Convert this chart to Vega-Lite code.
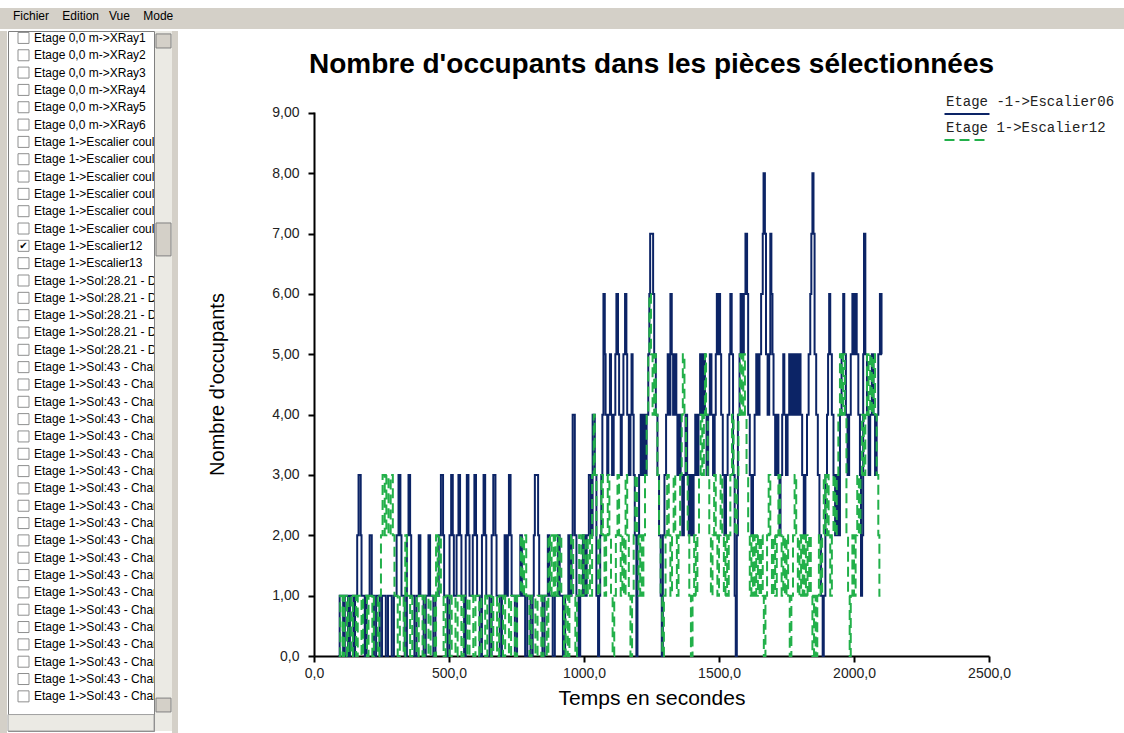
{
  "$schema": "https://vega.github.io/schema/vega-lite/v6.json",
  "background": "white",
  "padding": {"left": 0, "top": 8, "right": 0, "bottom": 0},
  "spacing": 1,
  "resolve": {"scale": {"color": "independent", "strokeDash": "independent"}, "legend": {"color": "independent", "strokeDash": "independent"}},
  "config": {"view": {"stroke": null}, "font": "Liberation Sans", "style": {"guide-label": {"lineHeight": 24}}},
  "datasets": {
    "escalier06": [
{"t":90,"n":0},{"t":95,"n":1},{"t":108,"n":0},{"t":114,"n":1},{"t":126,"n":0},{"t":133,"n":1},{"t":146,"n":0},{"t":152,"n":1},{"t":160,"n":2},{"t":165,"n":3},{"t":173,"n":2},{"t":176,"n":1},{"t":188,"n":0},{"t":195,"n":1},{"t":206,"n":2},{"t":214,"n":1},{"t":222,"n":0},{"t":230,"n":1},{"t":244,"n":0},{"t":252,"n":1},{"t":266,"n":0},{"t":274,"n":1},{"t":288,"n":0},{"t":296,"n":1},{"t":306,"n":2},{"t":313,"n":3},{"t":320,"n":2},{"t":324,"n":1},{"t":336,"n":0},{"t":344,"n":2},{"t":350,"n":3},{"t":356,"n":2},{"t":360,"n":1},{"t":372,"n":0},{"t":380,"n":1},{"t":388,"n":2},{"t":394,"n":1},{"t":406,"n":0},{"t":414,"n":1},{"t":424,"n":2},{"t":430,"n":1},{"t":442,"n":0},{"t":450,"n":1},{"t":462,"n":2},{"t":470,"n":3},{"t":478,"n":2},{"t":482,"n":1},{"t":494,"n":0},{"t":502,"n":2},{"t":508,"n":3},{"t":514,"n":2},{"t":518,"n":1},{"t":528,"n":2},{"t":535,"n":3},{"t":541,"n":2},{"t":546,"n":1},{"t":556,"n":0},{"t":562,"n":2},{"t":566,"n":3},{"t":572,"n":2},{"t":576,"n":1},{"t":588,"n":2},{"t":594,"n":3},{"t":600,"n":2},{"t":604,"n":1},{"t":614,"n":0},{"t":622,"n":2},{"t":628,"n":3},{"t":634,"n":2},{"t":638,"n":1},{"t":650,"n":0},{"t":658,"n":2},{"t":664,"n":3},{"t":672,"n":2},{"t":676,"n":1},{"t":688,"n":0},{"t":696,"n":1},{"t":706,"n":2},{"t":712,"n":1},{"t":718,"n":2},{"t":722,"n":3},{"t":728,"n":2},{"t":732,"n":1},{"t":744,"n":0},{"t":752,"n":1},{"t":764,"n":2},{"t":770,"n":1},{"t":782,"n":0},{"t":790,"n":1},{"t":802,"n":0},{"t":810,"n":1},{"t":814,"n":2},{"t":818,"n":3},{"t":830,"n":2},{"t":834,"n":1},{"t":846,"n":0},{"t":854,"n":1},{"t":866,"n":2},{"t":872,"n":1},{"t":884,"n":0},{"t":892,"n":1},{"t":904,"n":2},{"t":910,"n":1},{"t":922,"n":0},{"t":930,"n":1},{"t":942,"n":2},{"t":948,"n":1},{"t":954,"n":2},{"t":958,"n":4},{"t":966,"n":2},{"t":972,"n":1},{"t":980,"n":0},{"t":986,"n":1},{"t":996,"n":2},{"t":1004,"n":1},{"t":1010,"n":2},{"t":1018,"n":3},{"t":1026,"n":2},{"t":1032,"n":4},{"t":1040,"n":3},{"t":1046,"n":1},{"t":1052,"n":0},{"t":1056,"n":1},{"t":1060,"n":2},{"t":1064,"n":3},{"t":1068,"n":4},{"t":1072,"n":6},{"t":1077,"n":5},{"t":1080,"n":4},{"t":1086,"n":3},{"t":1090,"n":4},{"t":1096,"n":5},{"t":1100,"n":4},{"t":1104,"n":3},{"t":1110,"n":4},{"t":1116,"n":5},{"t":1120,"n":6},{"t":1126,"n":5},{"t":1130,"n":4},{"t":1136,"n":3},{"t":1140,"n":4},{"t":1146,"n":5},{"t":1152,"n":6},{"t":1157,"n":5},{"t":1160,"n":4},{"t":1166,"n":3},{"t":1172,"n":4},{"t":1176,"n":5},{"t":1180,"n":4},{"t":1184,"n":3},{"t":1188,"n":2},{"t":1194,"n":0},{"t":1198,"n":2},{"t":1204,"n":3},{"t":1210,"n":4},{"t":1216,"n":3},{"t":1220,"n":4},{"t":1226,"n":3},{"t":1232,"n":4},{"t":1238,"n":5},{"t":1242,"n":6},{"t":1245,"n":7},{"t":1256,"n":6},{"t":1260,"n":5},{"t":1266,"n":4},{"t":1272,"n":3},{"t":1278,"n":2},{"t":1284,"n":1},{"t":1288,"n":0},{"t":1292,"n":2},{"t":1298,"n":3},{"t":1304,"n":4},{"t":1310,"n":5},{"t":1316,"n":4},{"t":1320,"n":6},{"t":1325,"n":5},{"t":1330,"n":4},{"t":1336,"n":5},{"t":1342,"n":4},{"t":1346,"n":3},{"t":1352,"n":4},{"t":1358,"n":3},{"t":1364,"n":2},{"t":1370,"n":3},{"t":1376,"n":4},{"t":1382,"n":3},{"t":1388,"n":2},{"t":1394,"n":3},{"t":1400,"n":2},{"t":1406,"n":3},{"t":1412,"n":4},{"t":1418,"n":3},{"t":1424,"n":4},{"t":1430,"n":5},{"t":1436,"n":4},{"t":1442,"n":5},{"t":1448,"n":4},{"t":1454,"n":3},{"t":1460,"n":4},{"t":1466,"n":5},{"t":1472,"n":4},{"t":1478,"n":3},{"t":1484,"n":4},{"t":1488,"n":5},{"t":1492,"n":6},{"t":1496,"n":5},{"t":1500,"n":6},{"t":1504,"n":5},{"t":1508,"n":4},{"t":1514,"n":3},{"t":1520,"n":2},{"t":1526,"n":3},{"t":1532,"n":4},{"t":1538,"n":5},{"t":1542,"n":6},{"t":1547,"n":5},{"t":1552,"n":3},{"t":1558,"n":1},{"t":1562,"n":0},{"t":1566,"n":2},{"t":1570,"n":4},{"t":1576,"n":5},{"t":1580,"n":6},{"t":1586,"n":5},{"t":1592,"n":6},{"t":1598,"n":7},{"t":1604,"n":6},{"t":1608,"n":4},{"t":1614,"n":3},{"t":1620,"n":2},{"t":1626,"n":3},{"t":1632,"n":4},{"t":1638,"n":5},{"t":1644,"n":4},{"t":1650,"n":5},{"t":1656,"n":6},{"t":1662,"n":7},{"t":1665,"n":8},{"t":1670,"n":7},{"t":1674,"n":5},{"t":1680,"n":4},{"t":1686,"n":5},{"t":1690,"n":7},{"t":1694,"n":6},{"t":1698,"n":5},{"t":1702,"n":4},{"t":1708,"n":3},{"t":1714,"n":4},{"t":1720,"n":3},{"t":1724,"n":2},{"t":1728,"n":3},{"t":1734,"n":4},{"t":1738,"n":5},{"t":1742,"n":4},{"t":1748,"n":3},{"t":1754,"n":4},{"t":1760,"n":5},{"t":1766,"n":4},{"t":1772,"n":5},{"t":1778,"n":4},{"t":1784,"n":5},{"t":1790,"n":4},{"t":1796,"n":5},{"t":1802,"n":4},{"t":1808,"n":3},{"t":1814,"n":2},{"t":1820,"n":3},{"t":1826,"n":4},{"t":1832,"n":5},{"t":1838,"n":6},{"t":1842,"n":7},{"t":1846,"n":8},{"t":1850,"n":7},{"t":1854,"n":5},{"t":1860,"n":4},{"t":1866,"n":3},{"t":1872,"n":2},{"t":1878,"n":1},{"t":1884,"n":0},{"t":1888,"n":1},{"t":1894,"n":3},{"t":1900,"n":4},{"t":1904,"n":5},{"t":1908,"n":6},{"t":1912,"n":5},{"t":1918,"n":4},{"t":1924,"n":3},{"t":1930,"n":2},{"t":1936,"n":3},{"t":1942,"n":2},{"t":1948,"n":4},{"t":1954,"n":5},{"t":1960,"n":6},{"t":1964,"n":5},{"t":1970,"n":4},{"t":1976,"n":3},{"t":1982,"n":4},{"t":1988,"n":5},{"t":1994,"n":6},{"t":2000,"n":5},{"t":2006,"n":6},{"t":2010,"n":5},{"t":2016,"n":4},{"t":2022,"n":3},{"t":2026,"n":1},{"t":2030,"n":2},{"t":2034,"n":5},{"t":2037,"n":7},{"t":2042,"n":5},{"t":2048,"n":4},{"t":2054,"n":3},{"t":2060,"n":4},{"t":2066,"n":5},{"t":2072,"n":4},{"t":2078,"n":3},{"t":2084,"n":4},{"t":2090,"n":5},{"t":2096,"n":6},{"t":2102,"n":5},{"t":2104,"n":5}
    ],
    "escalier12": [
{"t":92,"n":0},{"t":97,"n":1},{"t":106,"n":0},{"t":112,"n":1},{"t":122,"n":0},{"t":128,"n":1},{"t":138,"n":0},{"t":144,"n":1},{"t":156,"n":0},{"t":162,"n":1},{"t":176,"n":0},{"t":182,"n":1},{"t":196,"n":0},{"t":202,"n":1},{"t":216,"n":0},{"t":222,"n":1},{"t":236,"n":0},{"t":242,"n":1},{"t":248,"n":2},{"t":254,"n":3},{"t":262,"n":2},{"t":268,"n":3},{"t":276,"n":2},{"t":284,"n":3},{"t":292,"n":2},{"t":298,"n":1},{"t":310,"n":0},{"t":318,"n":1},{"t":332,"n":0},{"t":338,"n":2},{"t":344,"n":1},{"t":356,"n":0},{"t":364,"n":1},{"t":380,"n":0},{"t":388,"n":1},{"t":402,"n":0},{"t":410,"n":1},{"t":424,"n":0},{"t":432,"n":1},{"t":446,"n":0},{"t":452,"n":2},{"t":458,"n":1},{"t":464,"n":2},{"t":470,"n":1},{"t":480,"n":0},{"t":488,"n":1},{"t":502,"n":0},{"t":510,"n":1},{"t":524,"n":0},{"t":532,"n":1},{"t":546,"n":0},{"t":554,"n":1},{"t":568,"n":0},{"t":576,"n":1},{"t":590,"n":0},{"t":598,"n":1},{"t":612,"n":0},{"t":620,"n":1},{"t":634,"n":0},{"t":642,"n":1},{"t":656,"n":0},{"t":664,"n":1},{"t":678,"n":0},{"t":686,"n":1},{"t":700,"n":0},{"t":708,"n":1},{"t":722,"n":0},{"t":730,"n":1},{"t":744,"n":0},{"t":752,"n":1},{"t":766,"n":2},{"t":772,"n":1},{"t":778,"n":2},{"t":786,"n":1},{"t":798,"n":0},{"t":806,"n":1},{"t":820,"n":0},{"t":828,"n":1},{"t":842,"n":0},{"t":850,"n":1},{"t":862,"n":0},{"t":868,"n":2},{"t":874,"n":1},{"t":880,"n":2},{"t":888,"n":1},{"t":894,"n":2},{"t":902,"n":1},{"t":908,"n":2},{"t":916,"n":1},{"t":926,"n":0},{"t":932,"n":1},{"t":940,"n":0},{"t":946,"n":1},{"t":952,"n":2},{"t":960,"n":1},{"t":968,"n":0},{"t":974,"n":1},{"t":982,"n":2},{"t":990,"n":1},{"t":998,"n":2},{"t":1006,"n":1},{"t":1014,"n":2},{"t":1022,"n":1},{"t":1030,"n":3},{"t":1036,"n":4},{"t":1040,"n":3},{"t":1046,"n":2},{"t":1052,"n":1},{"t":1058,"n":2},{"t":1064,"n":3},{"t":1070,"n":2},{"t":1076,"n":1},{"t":1082,"n":2},{"t":1088,"n":3},{"t":1094,"n":2},{"t":1100,"n":1},{"t":1106,"n":0},{"t":1112,"n":1},{"t":1118,"n":2},{"t":1124,"n":3},{"t":1130,"n":2},{"t":1136,"n":1},{"t":1142,"n":2},{"t":1148,"n":1},{"t":1154,"n":3},{"t":1160,"n":2},{"t":1166,"n":1},{"t":1172,"n":0},{"t":1178,"n":1},{"t":1184,"n":2},{"t":1190,"n":3},{"t":1196,"n":2},{"t":1202,"n":1},{"t":1208,"n":2},{"t":1214,"n":1},{"t":1220,"n":2},{"t":1226,"n":3},{"t":1232,"n":4},{"t":1238,"n":5},{"t":1242,"n":6},{"t":1248,"n":5},{"t":1254,"n":4},{"t":1260,"n":5},{"t":1266,"n":4},{"t":1272,"n":3},{"t":1278,"n":2},{"t":1284,"n":1},{"t":1290,"n":0},{"t":1296,"n":1},{"t":1302,"n":2},{"t":1308,"n":3},{"t":1314,"n":2},{"t":1320,"n":1},{"t":1326,"n":2},{"t":1332,"n":3},{"t":1338,"n":2},{"t":1344,"n":1},{"t":1350,"n":2},{"t":1356,"n":3},{"t":1362,"n":4},{"t":1366,"n":5},{"t":1372,"n":4},{"t":1378,"n":3},{"t":1384,"n":2},{"t":1390,"n":1},{"t":1396,"n":0},{"t":1402,"n":1},{"t":1408,"n":2},{"t":1414,"n":1},{"t":1420,"n":2},{"t":1426,"n":3},{"t":1432,"n":4},{"t":1438,"n":3},{"t":1444,"n":4},{"t":1448,"n":5},{"t":1452,"n":4},{"t":1458,"n":3},{"t":1464,"n":2},{"t":1470,"n":1},{"t":1476,"n":2},{"t":1482,"n":3},{"t":1488,"n":2},{"t":1494,"n":1},{"t":1500,"n":2},{"t":1506,"n":3},{"t":1512,"n":2},{"t":1518,"n":1},{"t":1524,"n":2},{"t":1530,"n":1},{"t":1536,"n":2},{"t":1542,"n":3},{"t":1548,"n":4},{"t":1554,"n":3},{"t":1560,"n":2},{"t":1566,"n":3},{"t":1572,"n":4},{"t":1578,"n":5},{"t":1584,"n":4},{"t":1590,"n":5},{"t":1596,"n":4},{"t":1602,"n":3},{"t":1608,"n":2},{"t":1614,"n":1},{"t":1620,"n":2},{"t":1626,"n":1},{"t":1632,"n":2},{"t":1638,"n":1},{"t":1644,"n":2},{"t":1650,"n":1},{"t":1656,"n":2},{"t":1662,"n":1},{"t":1666,"n":0},{"t":1672,"n":1},{"t":1678,"n":2},{"t":1684,"n":3},{"t":1690,"n":2},{"t":1696,"n":1},{"t":1702,"n":2},{"t":1708,"n":1},{"t":1714,"n":2},{"t":1720,"n":3},{"t":1726,"n":2},{"t":1732,"n":1},{"t":1738,"n":2},{"t":1744,"n":1},{"t":1750,"n":2},{"t":1756,"n":1},{"t":1762,"n":0},{"t":1768,"n":1},{"t":1774,"n":2},{"t":1780,"n":3},{"t":1786,"n":2},{"t":1792,"n":1},{"t":1798,"n":2},{"t":1804,"n":1},{"t":1810,"n":2},{"t":1816,"n":1},{"t":1822,"n":2},{"t":1828,"n":1},{"t":1834,"n":2},{"t":1840,"n":1},{"t":1846,"n":0},{"t":1852,"n":1},{"t":1858,"n":0},{"t":1864,"n":1},{"t":1870,"n":2},{"t":1876,"n":1},{"t":1882,"n":2},{"t":1888,"n":3},{"t":1894,"n":2},{"t":1900,"n":3},{"t":1906,"n":2},{"t":1912,"n":1},{"t":1918,"n":2},{"t":1924,"n":3},{"t":1930,"n":2},{"t":1936,"n":3},{"t":1942,"n":4},{"t":1948,"n":5},{"t":1954,"n":4},{"t":1960,"n":5},{"t":1966,"n":4},{"t":1972,"n":2},{"t":1978,"n":1},{"t":1984,"n":0},{"t":1988,"n":1},{"t":1994,"n":2},{"t":2000,"n":1},{"t":2006,"n":2},{"t":2012,"n":3},{"t":2018,"n":2},{"t":2024,"n":3},{"t":2030,"n":4},{"t":2036,"n":3},{"t":2042,"n":4},{"t":2048,"n":5},{"t":2054,"n":4},{"t":2060,"n":5},{"t":2066,"n":4},{"t":2072,"n":5},{"t":2078,"n":4},{"t":2084,"n":3},{"t":2090,"n":2},{"t":2094,"n":1},{"t":2098,"n":1}
    ],
    "pieces": [
{"row":0,"label":"Etage 0,0 m->XRay1","checked":false},{"row":1,"label":"Etage 0,0 m->XRay2","checked":false},{"row":2,"label":"Etage 0,0 m->XRay3","checked":false},{"row":3,"label":"Etage 0,0 m->XRay4","checked":false},{"row":4,"label":"Etage 0,0 m->XRay5","checked":false},{"row":5,"label":"Etage 0,0 m->XRay6","checked":false},
{"row":6,"label":"Etage 1->Escalier couleur 01","checked":false},{"row":7,"label":"Etage 1->Escalier couleur 02","checked":false},{"row":8,"label":"Etage 1->Escalier couleur 03","checked":false},{"row":9,"label":"Etage 1->Escalier couleur 04","checked":false},{"row":10,"label":"Etage 1->Escalier couleur 05","checked":false},{"row":11,"label":"Etage 1->Escalier couleur 06","checked":false},
{"row":12,"label":"Etage 1->Escalier12","checked":true},{"row":13,"label":"Etage 1->Escalier13","checked":false},
{"row":14,"label":"Etage 1->Sol:28.21 - Dégagement","checked":false},{"row":15,"label":"Etage 1->Sol:28.21 - Dégagement","checked":false},{"row":16,"label":"Etage 1->Sol:28.21 - Dégagement","checked":false},{"row":17,"label":"Etage 1->Sol:28.21 - Dégagement","checked":false},{"row":18,"label":"Etage 1->Sol:28.21 - Dégagement","checked":false},
{"row":19,"label":"Etage 1->Sol:43 - Chambre","checked":false},{"row":20,"label":"Etage 1->Sol:43 - Chambre","checked":false},{"row":21,"label":"Etage 1->Sol:43 - Chambre","checked":false},{"row":22,"label":"Etage 1->Sol:43 - Chambre","checked":false},{"row":23,"label":"Etage 1->Sol:43 - Chambre","checked":false},{"row":24,"label":"Etage 1->Sol:43 - Chambre","checked":false},{"row":25,"label":"Etage 1->Sol:43 - Chambre","checked":false},{"row":26,"label":"Etage 1->Sol:43 - Chambre","checked":false},{"row":27,"label":"Etage 1->Sol:43 - Chambre","checked":false},{"row":28,"label":"Etage 1->Sol:43 - Chambre","checked":false},{"row":29,"label":"Etage 1->Sol:43 - Chambre","checked":false},{"row":30,"label":"Etage 1->Sol:43 - Chambre","checked":false},{"row":31,"label":"Etage 1->Sol:43 - Chambre","checked":false},{"row":32,"label":"Etage 1->Sol:43 - Chambre","checked":false},{"row":33,"label":"Etage 1->Sol:43 - Chambre","checked":false},{"row":34,"label":"Etage 1->Sol:43 - Chambre","checked":false},{"row":35,"label":"Etage 1->Sol:43 - Chambre","checked":false},{"row":36,"label":"Etage 1->Sol:43 - Chambre","checked":false},{"row":37,"label":"Etage 1->Sol:43 - Chambre","checked":false},{"row":38,"label":"Etage 1->Sol:43 - Chambre","checked":false}
    ]
  },
  "vconcat": [
    {
      "width": 1124, "height": 21,
      "view": {"fill": "#d4d0c8", "stroke": null},
      "data": {"values": [{"menu": "Fichier\u00a0\u00a0\u00a0\u00a0Edition\u00a0\u00a0\u00a0Vue\u00a0\u00a0\u00a0\u00a0Mode"}]},
      "mark": {"type": "text", "align": "left", "baseline": "middle", "font": "Liberation Sans", "fontSize": 12, "color": "black"},
      "encoding": {"text": {"field": "menu"}, "x": {"value": 13}, "y": {"value": 8}}
    },
    {
      "spacing": 29,
      "resolve": {"scale": {"color": "independent", "strokeDash": "independent"}, "legend": {"color": "independent", "strokeDash": "independent"}},
      "hconcat": [
        {
          "spacing": 0,
          "hconcat": [
            {
              "width": 7, "height": 703,
              "view": {"fill": "#d4d0c8", "stroke": null},
              "data": {"values": [{}]},
              "mark": "text",
              "encoding": {"text": {"value": ""}}
            },
            {
              "width": 146, "height": 700,
              "view": {"fill": "white", "stroke": "#808080"},
              "layer": [
                {"data": {"name": "pieces"}, "mark": {"type": "point", "shape": "square", "size": 121, "filled": false, "color": "#8e8f8f", "strokeWidth": 1, "opacity": 1, "clip": true},
                  "encoding": {"y": {"field": "row", "type": "quantitative", "scale": {"domain": [-0.4, 40], "reverse": true, "nice": false, "zero": false}, "axis": null}, "x": {"value": 15.5}}},
                {"data": {"name": "pieces"}, "mark": {"type": "text", "align": "left", "baseline": "middle", "font": "Liberation Sans", "fontSize": 12, "color": "black", "clip": true},
                  "encoding": {"y": {"field": "row", "type": "quantitative"}, "x": {"value": 26}, "text": {"field": "label"}}},
                {"data": {"name": "pieces"}, "mark": {"type": "text", "align": "center", "baseline": "middle", "font": "DejaVu Sans", "fontSize": 10, "color": "black"},
                  "encoding": {"y": {"field": "row", "type": "quantitative"}, "x": {"value": 15.5}, "text": {"condition": {"test": "datum.checked", "value": "✔"}, "value": ""}}},
                {"data": {"values": [{"partie": "defilement horizontal", "debut": 39.05, "fin": 40}]}, "mark": {"type": "rect", "fill": "#ebeae4", "stroke": "#a0a0a0", "strokeWidth": 1},
                  "encoding": {"y": {"field": "debut", "type": "quantitative"}, "y2": {"field": "fin"}, "x": {"value": 0}, "x2": {"value": 146}}}
              ]
            },
            {
              "width": 17, "height": 700,
              "view": {"fill": "#ebeae4", "stroke": null},
              "data": {"values": [{"partie": "haut", "debut": -0.23, "fin": 0.58}, {"partie": "curseur", "debut": 10.68, "fin": 12.58}, {"partie": "bas", "debut": 38.1, "fin": 38.9}]},
              "mark": {"type": "rect", "fill": "#d4d0c8", "stroke": "#808080", "strokeWidth": 1},
              "encoding": {
                "y": {"field": "debut", "type": "quantitative", "scale": {"domain": [-0.4, 40], "reverse": true, "nice": false, "zero": false}, "axis": null},
                "y2": {"field": "fin"},
                "x": {"value": 1}, "x2": {"value": 16}
              }
            },
            {
              "width": 6, "height": 703,
              "view": {"fill": "#d4d0c8", "stroke": null},
              "data": {"values": [{}]},
              "mark": "text",
              "encoding": {"text": {"value": ""}}
            }
          ]
        },
        {
          "width": 675, "height": 625,
          "view": {"stroke": null},
          "title": {"text": "Nombre d'occupants dans les pièces sélectionnées", "font": "Liberation Sans", "fontSize": 28, "fontWeight": "bold", "color": "black", "baseline": "top", "anchor": "middle", "offset": -48},
          "encoding": {
            "x": {"field": "t", "type": "quantitative", "title": "Temps en secondes",
              "scale": {"domain": [0, 2500], "nice": false, "zero": false},
              "axis": {"values": [0, 500, 1000, 1500, 2000, 2500], "labelExpr": "replace(format(datum.value, '.1f'), '.', ',')", "grid": false, "domainColor": "black", "domainWidth": 2, "tickColor": "black", "tickWidth": 2, "tickSize": 6, "labelFont": "Liberation Sans", "labelFontSize": 14, "labelColor": "#222222", "labelPadding": 4, "labelFlush": false, "labelOverlap": false, "titleFont": "Liberation Sans", "titleFontSize": 21, "titleFontWeight": "normal", "titleColor": "black", "titlePadding": 7}},
            "y": {"field": "n", "type": "quantitative", "title": "Nombre d'occupants",
              "scale": {"domain": [0, 10.3591], "nice": false, "zero": false},
              "axis": {"values": [0, 1, 2, 3, 4, 5, 6, 7, 8, 9], "labelExpr": "datum.value == 0 ? '0,0' : replace(format(datum.value, '.2f'), '.', ',')", "grid": false, "domain": true, "domainColor": "black", "domainWidth": 2, "domainCap": "butt", "domainDash": [544, 400], "tickColor": "black", "tickWidth": 2, "tickSize": 6, "labelFont": "Liberation Sans", "labelFontSize": 14, "labelColor": "#222222", "labelPadding": 9, "labelFlush": false, "labelOverlap": false, "titleFont": "Liberation Sans", "titleFontSize": 20, "titleFontWeight": "normal", "titleColor": "black", "titlePadding": 44, "titleY": 353}}
          },
          "layer": [
            {
              "data": {"name": "escalier06"},
              "mark": {"type": "line", "interpolate": "step-after", "strokeWidth": 2, "strokeCap": "butt"},
              "encoding": {
                "color": {"datum": "Etage -1->Escalier06", "type": "nominal",
                  "scale": {"domain": ["Etage -1->Escalier06", "Etage 1->Escalier12"], "range": ["#0c2466", "#22b04a"]},
                  "legend": {"title": null, "orient": "none", "legendX": 646, "legendY": 76, "symbolType": "M-5,0H5", "symbolSize": 81, "symbolStrokeWidth": 2, "labelFont": "Liberation Mono", "labelFontSize": 14, "labelColor": "#222222", "labelOffset": -28, "labelBaseline": "line-bottom", "rowPadding": 3, "padding": 0, "labelLimit": 400}},
                "strokeDash": {"datum": "Etage -1->Escalier06", "type": "nominal",
                  "scale": {"domain": ["Etage -1->Escalier06", "Etage 1->Escalier12"], "range": [[1, 0], [10, 5]]},
                  "legend": {"title": null, "orient": "none", "legendX": 646, "legendY": 76, "symbolType": "M-5,0H5", "symbolSize": 81, "symbolStrokeWidth": 2, "labelFont": "Liberation Mono", "labelFontSize": 14, "labelColor": "#222222", "labelOffset": -28, "labelBaseline": "line-bottom", "rowPadding": 3, "padding": 0, "labelLimit": 400}}
              }
            },
            {
              "data": {"name": "escalier12"},
              "mark": {"type": "line", "interpolate": "step-after", "strokeWidth": 2, "strokeCap": "butt"},
              "encoding": {
                "color": {"datum": "Etage 1->Escalier12", "type": "nominal"},
                "strokeDash": {"datum": "Etage 1->Escalier12", "type": "nominal"}
              }
            }
          ]
        }
      ]
    }
  ]
}
